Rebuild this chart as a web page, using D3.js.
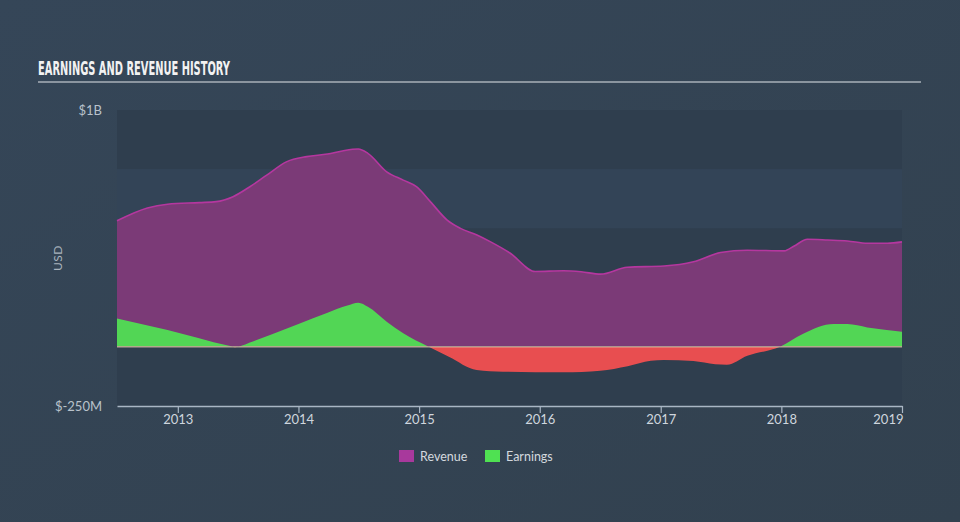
<!DOCTYPE html>
<html><head><meta charset="utf-8">
<script src="https://cdn.jsdelivr.net/npm/d3@7"></script>
<style>
html,body{margin:0;padding:0;background:#344557;}
svg{display:block;}
</style></head>
<body>
<svg id="chart" width="960" height="522"></svg>
<script>
// ---- data ----
const revenueDates = ["2012-07-01","2012-10-01","2012-12-01","2013-03-07","2013-04-27","2013-06-17","2013-08-07","2013-09-27","2013-11-27","2014-01-26","2014-03-30","2014-05-17","2014-07-01","2014-07-30","2014-09-25","2014-11-14","2014-12-24","2015-02-04","2015-03-27","2015-05-06","2015-06-25","2015-08-04","2015-10-04","2015-12-18","2016-03-13","2016-05-05","2016-07-03","2016-09-22","2017-01-11","2017-04-10","2017-07-01","2017-09-20","2018-01-10","2018-02-09","2018-03-21","2018-05-21","2018-07-20","2018-09-18","2018-11-18","2019-01-01"];
const revenueValues = [532,586,602,609,613,634,676,725,782,803,814,828,835,817,739,704,676,613,535,500,472,444,395,318,321,317,307,336,341,359,398,408,405,426,454,451,447,437,437,443];
const earningsDates = ["2012-07-01","2012-12-01","2013-06-05","2013-06-25","2013-07-10","2013-08-07","2013-10-15","2014-01-01","2014-03-30","2014-05-29","2014-07-01","2014-07-30","2014-09-25","2014-11-14","2015-01-30","2015-04-01","2015-06-24","2015-09-12","2016-03-12","2016-07-02","2016-09-23","2016-12-02","2017-01-10","2017-04-10","2017-06-15","2017-07-20","2017-09-20","2017-12-28","2018-03-08","2018-06-08","2018-07-20","2018-09-18","2019-01-01"];
const earningsValues = [120,71,4,-2,3,18,54,96,144,174,186,169,106,57,0,-42,-98,-105,-108,-101,-82,-59,-56,-60,-74,-76,-38,0,55,96,96,82,64];
const xTickDates = ["2013-01-01","2014-01-01","2015-01-01","2016-01-01","2017-01-01","2018-01-01","2019-01-01"];
const yTickValues = [1000,-250];
const yTickLabels = ["$1B","$-250M"];
const bandEdges = [1000,750,500,250,0,-250];
const legendLabels = ["Revenue","Earnings"];
const legendColors = ["#a8399c","#4fe152"];

// ---- setup ----
const svg = d3.select("#chart");
const W = 960, H = 522;
const plot = {left:117, right:902, top:110, bottom:406};
const parse = d3.timeParse("%Y-%m-%d");

const defs = svg.append("defs");
const bg = defs.append("linearGradient").attr("id","bg").attr("x1","0").attr("y1","0").attr("x2","1").attr("y2","1");
bg.append("stop").attr("offset","0").attr("stop-color","#354658");
bg.append("stop").attr("offset","1").attr("stop-color","#32414f");
svg.append("rect").attr("width",W).attr("height",H).attr("fill","url(#bg)");

const x = d3.scaleTime().domain([parse("2012-07-01"), parse("2019-01-01")]).range([plot.left, plot.right]);
const y = d3.scaleLinear().domain([-250,1000]).range([plot.bottom, plot.top]);

// bands
const bands = d3.range(bandEdges.length-1).map(i => ({hi:bandEdges[i], lo:bandEdges[i+1], i}));
svg.append("g").selectAll("rect").data(bands).join("rect")
  .attr("x", plot.left).attr("width", plot.right-plot.left)
  .attr("y", d => y(d.hi)).attr("height", d => y(d.lo)-y(d.hi))
  .attr("fill", d => d.i%2===0 ? "#2f3e4e" : "#334457");

// title
svg.append("text").attr("x",38).attr("y",75)
  .attr("font-family","'Liberation Sans Narrow','DejaVu Sans Condensed',sans-serif")
  .attr("font-weight","bold").attr("font-size",20).attr("fill","#f2f2f2")
  .attr("textLength",192).attr("lengthAdjust","spacingAndGlyphs")
  .text("EARNINGS AND REVENUE HISTORY");
svg.append("line").attr("x1",38).attr("x2",921).attr("y1",82).attr("y2",82)
  .attr("stroke","#a9b0b8").attr("stroke-width",1.6);

const revData = revenueDates.map((d,i)=>({date:parse(d), v:revenueValues[i]}));
const earnData = earningsDates.map((d,i)=>({date:parse(d), v:earningsValues[i]}));

const area = d3.area().x(d=>x(d.date)).y0(y(0)).y1(d=>y(d.v)).curve(d3.curveMonotoneX);
const line = d3.line().x(d=>x(d.date)).y(d=>y(d.v)).curve(d3.curveMonotoneX);

svg.append("path").datum(revData).attr("d",area).attr("fill","#7b3a77");
svg.append("path").datum(revData).attr("d",line).attr("fill","none").attr("stroke","#b5379f").attr("stroke-width",1.6);

// earnings clipped positive/negative
defs.append("clipPath").attr("id","pos").append("rect")
  .attr("x",plot.left).attr("width",plot.right-plot.left).attr("y",plot.top).attr("height",y(0)-plot.top);
defs.append("clipPath").attr("id","neg").append("rect")
  .attr("x",plot.left).attr("width",plot.right-plot.left).attr("y",y(0)).attr("height",plot.bottom-y(0));
svg.append("path").datum(earnData).attr("d",area).attr("fill","#52d655").attr("clip-path","url(#pos)");
svg.append("path").datum(earnData).attr("d",area).attr("fill","#e84e50").attr("clip-path","url(#neg)");

// zero line
svg.append("line").attr("x1",plot.left).attr("x2",plot.right).attr("y1",y(0)).attr("y2",y(0))
  .attr("stroke","#e2c9b0").attr("stroke-opacity",0.75).attr("stroke-width",1.2);

// x axis
const xAxis = d3.axisBottom(x).tickValues(xTickDates.map(parse)).tickFormat(d3.timeFormat("%Y")).tickSize(7).tickSizeOuter(0);
const gx = svg.append("g").attr("transform",`translate(0,${plot.bottom})`).call(xAxis);
gx.select(".domain").attr("stroke","#a9b6c4").attr("stroke-width",1.5);
gx.selectAll(".tick line").attr("stroke","#a9b6c4").attr("stroke-width",1.2);
gx.selectAll(".tick text").attr("fill","#cfd6de").attr("font-family","Lato,'Open Sans',sans-serif")
  .attr("font-size",13).attr("dy","0.9em").attr("y",6);
gx.selectAll(".tick text").filter((d,i,n)=>i===n.length-1).attr("text-anchor","end").attr("x",1);

// y labels
svg.append("g").selectAll("text").data(yTickValues).join("text")
  .attr("x",102).attr("y",d=>y(d)).attr("dy","0.35em").attr("text-anchor","end")
  .attr("font-family","Lato,'Open Sans',sans-serif").attr("font-size",13).attr("fill","#b9c2cb")
  .text((d,i)=>yTickLabels[i]);
svg.append("text").attr("transform","translate(62,258) rotate(-90)").attr("text-anchor","middle")
  .attr("font-family","Lato,'Open Sans',sans-serif").attr("font-size",12).attr("fill","#a9b3bd")
  .attr("letter-spacing","0.5").text("USD");

// legend
const lg = svg.append("g");
const lx = [399, 485];
legendLabels.forEach((t,i)=>{
  lg.append("rect").attr("x",lx[i]).attr("y",450).attr("width",15).attr("height",12).attr("fill",legendColors[i]);
  lg.append("text").attr("x",lx[i]+21).attr("y",460.5).attr("font-family","Lato,'Open Sans',sans-serif")
    .attr("font-size",12.5).attr("fill","#d3d9df").text(t);
});
</script>
</body></html>
